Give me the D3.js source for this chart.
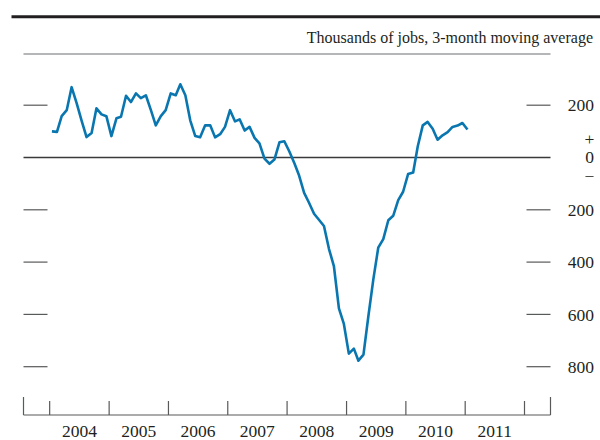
<!DOCTYPE html>
<html lang="en">
<head>
  <meta charset="UTF-8">
  <title>Net change in payroll employment</title>
  <script src="https://d3js.org/d3.v7.min.js"></script>
  <style>
    body {
      margin: 0;
      background: #fff;
    }
    svg {
      display: block;
      font-family: 'Liberation Serif', 'Times New Roman', serif;
    }
    .lbl {
      fill: #231f20;
    }
    .signs {
      writing-mode: vertical-rl;
      text-orientation: upright;
    }
  </style>
</head>
<body>
  <svg width="600" height="440"></svg>
  <script>
    // year tick labels
    const years = [2004, 2005, 2006, 2007, 2008, 2009, 2010, 2011];
    // monthly values starting Jan 2004 (thousands of jobs, 3-month moving average)
    const startMonth = new Date(2004, 0, 15);
    const jobs = [
      100, 98, 158, 181, 269, 208, 142, 78, 94, 188, 165, 158,
      82, 150, 156, 236, 212, 245, 227, 238, 181, 123, 158, 181,
      245, 238, 280, 238, 142, 82, 77, 123, 123, 77, 89, 117,
      181, 138, 146, 103, 117, 75, 54, -4, -24, -8, 58, 62,
      23, -22, -69, -135, -173, -215, -238, -262, -350, -415, -577, -635,
      -750, -731, -777, -754, -608, -465, -345, -312, -240, -223, -163, -131,
      -63, -57, 42, 123, 136, 110, 68, 85, 97, 117, 122, 132,
      107
    ];
    // y-axis ticks and their labels
    const yTicks = [200, -200, -400, -600, -800];
    const yLabels = ["200", "200", "400", "600", "800"];
    const title = "Thousands of jobs, 3-month moving average";

    const data = jobs.map((v, i) => ({ date: d3.timeMonth.offset(startMonth, i), value: v }));

    const svg = d3.select("svg");

    // plot frame
    const left = 23.5, right = 550.5, axisY = 415;

    const x = d3.scaleTime()
      .domain([new Date(2003, 6, 24), new Date(2012, 5, 9)])
      .range([left, right]);

    const y = d3.scaleLinear()
      .domain([-800, 200])
      .range([366.7, 105.2]);

    // thick rule at top
    svg.append("line")
      .attr("x1", 11.5).attr("x2", 600)
      .attr("y1", 16.7).attr("y2", 16.7)
      .attr("stroke", "#231f20")
      .attr("stroke-width", 3);

    // unit title
    svg.append("text")
      .attr("class", "lbl")
      .attr("x", 593)
      .attr("y", 43)
      .attr("text-anchor", "end")
      .attr("font-size", 16)
      .text(title);

    // thin rule under title
    svg.append("line")
      .attr("x1", left).attr("x2", right)
      .attr("y1", 54).attr("y2", 54)
      .attr("stroke", "#6d6e70")
      .attr("stroke-width", 1.2);

    // y ticks on both sides
    const tickG = svg.append("g").attr("stroke", "#58595b").attr("stroke-width", 1.2);
    yTicks.forEach(t => {
      tickG.append("line")
        .attr("x1", left).attr("x2", left + 24)
        .attr("y1", y(t)).attr("y2", y(t));
      tickG.append("line")
        .attr("x1", right - 24).attr("x2", right)
        .attr("y1", y(t)).attr("y2", y(t));
    });

    // y labels on the right
    yTicks.forEach((t, i) => {
      svg.append("text")
        .attr("class", "lbl")
        .attr("x", 594)
        .attr("y", y(t))
        .attr("dy", "0.35em")
        .attr("text-anchor", "end")
        .attr("font-size", 17.5)
        .text(yLabels[i]);
    });

    // + 0 − stacked around the zero line, one vertical label
    svg.append("text")
      .attr("class", "lbl signs")
      .attr("x", 589.5)
      .attr("y", y(0) - 1)
      .attr("text-anchor", "middle")
      .attr("font-size", 17.5)
      .attr("letter-spacing", -1.5)
      .text("+0\u2212");

    // zero line
    svg.append("line")
      .attr("x1", left).attr("x2", right)
      .attr("y1", y(0)).attr("y2", y(0))
      .attr("stroke", "#3a3a3c")
      .attr("stroke-width", 1.6);

    // bottom time axis
    const axisG = svg.append("g").attr("stroke", "#58595b").attr("stroke-width", 1.2);
    axisG.append("line")
      .attr("x1", left).attr("x2", right)
      .attr("y1", axisY).attr("y2", axisY);
    [left, right].forEach(px => {
      axisG.append("line")
        .attr("x1", px).attr("x2", px)
        .attr("y1", axisY - 18).attr("y2", axisY);
    });
    const yearTicks = years.concat([years[years.length - 1] + 1]);
    yearTicks.forEach(yr => {
      const px = x(new Date(yr, 0, 1));
      axisG.append("line")
        .attr("x1", px).attr("x2", px)
        .attr("y1", axisY - 14).attr("y2", axisY);
    });
    years.forEach(yr => {
      svg.append("text")
        .attr("class", "lbl")
        .attr("x", x(new Date(yr, 6, 2)))
        .attr("y", 437)
        .attr("text-anchor", "middle")
        .attr("font-size", 17.5)
        .text(yr);
    });

    // data line
    const line = d3.line()
      .x(d => x(d.date))
      .y(d => y(d.value));

    svg.append("path")
      .datum(data)
      .attr("fill", "none")
      .attr("stroke", "#0a76b0")
      .attr("stroke-width", 2.6)
      .attr("stroke-linejoin", "round")
      .attr("d", line);
  </script>
</body>
</html>
